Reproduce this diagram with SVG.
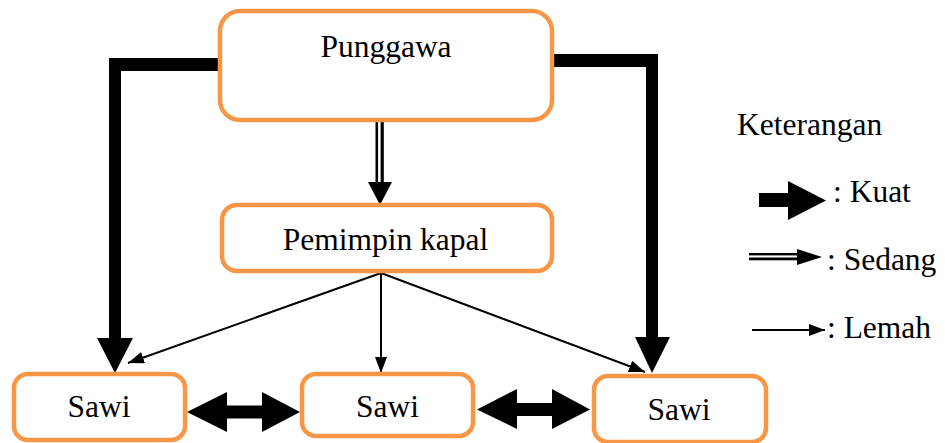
<svg xmlns="http://www.w3.org/2000/svg" width="945" height="443" viewBox="0 0 945 443">
<style>
.box{fill:#ffffff;stroke:#F79646;stroke-width:4.5}
.t{font-family:'Liberation Serif','Times New Roman',serif;font-size:31.5px;fill:#000}
.thin{stroke:#000;stroke-width:2;fill:none}
.blk{fill:#000;stroke:none}
</style>
<defs>
<marker id="ah" markerUnits="userSpaceOnUse" markerWidth="16" markerHeight="12" refX="16" refY="6" orient="auto">
<path d="M0,0 L16,6 L0,12 z" fill="#000"/>
</marker>
</defs>
<g id="connectors">
<path class="blk" d="M220,58 L109,58 L109,338 L97,338 L115,373 L133,338 L121,338 L121,71 L220,71 z"/>
<path class="blk" d="M552,54 L658,54 L658,337 L670,337 L652,373 L635,337 L646,337 L646,67 L552,67 z"/>
<rect class="blk" x="375.5" y="120" width="2.6" height="62"/>
<rect class="blk" x="380.6" y="120" width="3.2" height="62"/>
<path class="blk" d="M368,182 L392,182 L380,205 z"/>
<line class="thin" x1="381" y1="273" x2="128" y2="363" marker-end="url(#ah)"/>
<line class="thin" x1="381" y1="273" x2="381" y2="373" marker-end="url(#ah)"/>
<line class="thin" x1="381" y1="273" x2="645" y2="372" marker-end="url(#ah)"/>
<path class="blk" d="M187,412 L227,392 L227,405.5 L262,405.5 L262,392 L300,412 L262,432 L262,418.5 L227,418.5 L227,432 z"/>
<path class="blk" d="M477,409.5 L517,389 L517,403 L552,403 L552,389 L590,409.5 L552,429 L552,416 L517,416 L517,429 z"/>
</g>
<g id="punggawa">
<rect class="box" x="220" y="11" width="332" height="109" rx="20"/>
<text class="t" x="386" y="57" text-anchor="middle">Punggawa</text>
</g>
<g id="pemimpin">
<rect class="box" x="222" y="205" width="330" height="66" rx="15"/>
<text class="t" x="385.5" y="250" text-anchor="middle">Pemimpin kapal</text>
</g>
<g id="sawi1">
<rect class="box" x="14" y="374" width="171" height="66" rx="14"/>
<text class="t" x="99" y="417" text-anchor="middle">Sawi</text>
</g>
<g id="sawi2">
<rect class="box" x="302" y="374" width="171" height="62" rx="14"/>
<text class="t" x="387.5" y="417" text-anchor="middle">Sawi</text>
</g>
<g id="sawi3">
<rect class="box" x="594" y="376" width="172" height="66" rx="14"/>
<text class="t" x="679" y="420" text-anchor="middle">Sawi</text>
</g>
<g id="legend">
<text class="t" x="737" y="135">Keterangan</text>
<path class="blk" d="M759,193 L788,193 L788,181 L826,200.5 L788,220 L788,207 L759,207 z"/>
<text class="t" x="833" y="202">: Kuat</text>
<rect class="blk" x="749" y="253" width="48" height="2.4"/>
<rect class="blk" x="749" y="257.5" width="48" height="2.8"/>
<path class="blk" d="M797,249 L822,257 L797,265 z"/>
<text class="t" x="827" y="270">: Sedang</text>
<line class="thin" x1="752" y1="330" x2="825" y2="330" marker-end="url(#ah)"/>
<text class="t" x="827" y="338">: Lemah</text>
</g>
</svg>
